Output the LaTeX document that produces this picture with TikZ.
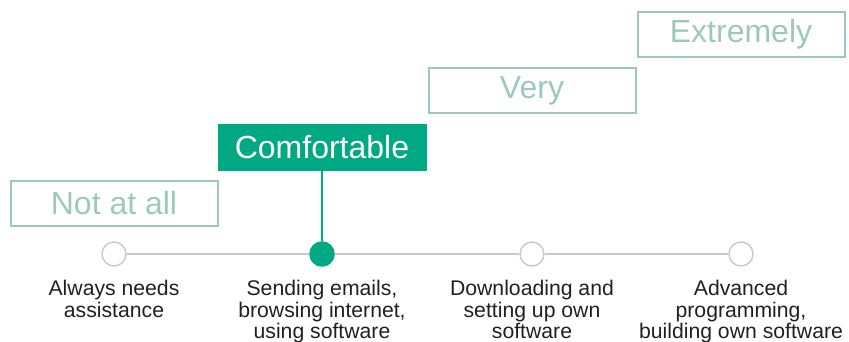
\documentclass[tikz,border=0pt]{standalone}
\usepackage{fontspec}
\setmainfont{Liberation Sans}
\definecolor{levelgreen}{HTML}{00A884}
\definecolor{palegreen}{HTML}{9DC9BD}
\definecolor{linegray}{HTML}{C8C8C8}
\definecolor{labelgray}{HTML}{231F20}

\begin{document}
\begin{tikzpicture}[x=1pt,y=-1pt]
    \tikzset{
        level/.style={draw=palegreen, line width=2pt, text=palegreen, minimum width=207pt, minimum height=45pt, inner sep=0pt, font=\fontsize{32}{32}\selectfont},
        chosen/.style={fill=levelgreen, draw=levelgreen, text=white},
        dot/.style={circle, draw=linegray, line width=1.4pt, minimum size=24pt, inner sep=0pt},
        skill/.style={anchor=north, align=center, inner sep=0pt, text=labelgray, font=\fontsize{21.2}{21.5}\selectfont}
    }
    \useasboundingbox (0,0) rectangle (849,341);
    \foreach \x/\t/\s [count=\i] in {
        114/Not at all/{Always needs\\assistance},
        322/Comfortable/{Sending emails,\\browsing internet,\\using software},
        532/Very/{Downloading and\\setting up own\\software},
        741/Extremely/{Advanced\\programming,\\building own software}}{
        \node[level] (lvl\i) at (\x,{203.5-56.5*(\i-1)}) {\t};
        \node[dot] (dot\i) at (\x,254) {};
        \node[skill] (skill\i) at (\x,280) {\s};
    }
    \node[level, chosen] at (lvl2) {Comfortable};
    \node[dot, fill=levelgreen, draw=levelgreen] at (dot2) {};
    \draw[linegray, line width=1.4pt] (dot1) -- (dot2) -- (dot3) -- (dot4);
    \draw[levelgreen, line width=2pt] (lvl2.south) -- (dot2);
\end{tikzpicture}
\end{document}
